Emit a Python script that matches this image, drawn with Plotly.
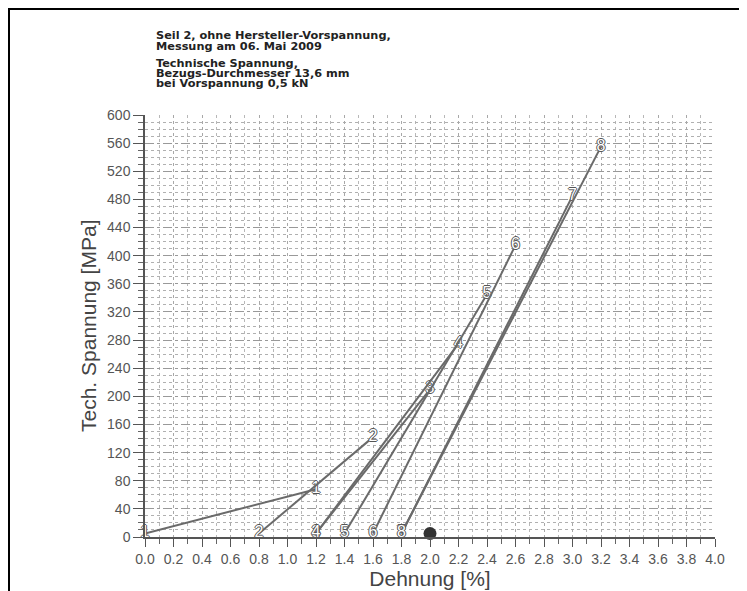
import plotly.graph_objects as go

# ---- data ----
series_labels = ["1", "2", "3", "4", "5", "6", "7", "8"]
start_strain = [0.0, 0.8, 1.2, 1.2, 1.4, 1.6, 1.8, 1.8]      # Dehnung [%] at start (unloaded)
start_stress = [5, 5, 5, 5, 5, 5, 5, 5]                       # MPa
peak_strain = [1.2, 1.6, 2.0, 2.2, 2.4, 2.6, 3.0, 3.2]        # Dehnung [%] at peak
peak_stress = [68, 142, 210, 275, 345, 415, 485, 555]         # MPa
end_point_strain = [2.0]
end_point_stress = [5]

header_lines = [
    "Seil 2, ohne Hersteller-Vorspannung,",
    "Messung am 06. Mai 2009",
    "Technische Spannung,",
    "Bezugs-Durchmesser 13,6 mm",
    "bei Vorspannung 0,5 kN",
]
header_y_page = [35.5, 46, 63.5, 73.5, 83.5]

x_ticks = [i / 5 for i in range(21)]
y_ticks = list(range(0, 601, 40))

# ---- layout geometry (page pixels; the page body adds an 8px offset) ----
OFF = 8
W, H = 747, 591
L, R, T, B = 145 - OFF, 715 - OFF, 115 - OFF, 537 - OFF


def px2paper_x(page_px):
    return (page_px - OFF - L) / (R - L)


def px2paper_y(page_py):
    return (B - (page_py - OFF)) / (B - T)


fig = go.Figure()

FONT = "Liberation Sans, Arial, sans-serif"
outline = "1px 0 0 #555, -1px 0 0 #555, 0 1px 0 #555, 0 -1px 0 #555"
for lab, xs, ys, xp, yp in zip(series_labels, start_strain, start_stress, peak_strain, peak_stress):
    fig.add_trace(go.Scatter(
        x=[xs, xp], y=[ys, yp],
        mode="lines+text",
        text=[lab, lab],
        textposition="middle center",
        textfont=dict(family=FONT, size=16, color="white", shadow=outline),
        line=dict(color="#6a6a6a", width=2),
        cliponaxis=False,
        showlegend=False,
        hoverinfo="x+y",
    ))

fig.add_trace(go.Scatter(
    x=end_point_strain, y=end_point_stress, mode="markers",
    marker=dict(color="#333333", size=13, symbol="circle"),
    cliponaxis=False, showlegend=False,
))

axis_font = dict(family=FONT, size=14, color="#555555")

fig.update_xaxes(
    range=[0, 4.0], tickvals=x_ticks, ticktext=[f"{v:.1f}" for v in x_ticks],
    showline=True, linecolor="#555555", linewidth=1.5,
    ticks="outside", ticklen=8, tickcolor="#555555",
    showgrid=True, gridcolor="#a8a8a8", griddash="dot", gridwidth=1,
    minor=dict(dtick=0.1, showgrid=True, gridcolor="#b8b8b8", griddash="dot",
               ticks="outside", ticklen=5, tickcolor="#666666"),
    tickfont=axis_font, zeroline=False, automargin=False,
    title=dict(text="Dehnung [%]", font=dict(family=FONT, size=21, color="#444444"), standoff=4),
)
fig.update_yaxes(
    range=[0, 600], tickvals=y_ticks,
    showline=True, linecolor="#555555", linewidth=1.5,
    ticks="outside", ticklen=10, tickcolor="#555555",
    showgrid=True, gridcolor="#999999", griddash="dashdot", gridwidth=1,
    minor=dict(dtick=10, showgrid=True, gridcolor="#b0b0b0", griddash="dot",
               ticks="outside", ticklen=5, tickcolor="#666666"),
    tickfont=axis_font, zeroline=False, automargin=False,
)

annotations = []
for txt, py in zip(header_lines, header_y_page):
    annotations.append(dict(
        text=txt, xref="paper", yref="paper",
        x=px2paper_x(154), y=px2paper_y(py), xanchor="left", yanchor="middle",
        showarrow=False,
        font=dict(family="DejaVu Sans, sans-serif", size=11.3, color="#222222", weight="bold"),
    ))
annotations.append(dict(
    text="Tech. Spannung [MPa]", xref="paper", yref="paper",
    x=px2paper_x(88), y=px2paper_y(326), xanchor="center", yanchor="middle", textangle=-90,
    showarrow=False,
    font=dict(family=FONT, size=21, color="#444444"),
))

# frame lines (top and left) at the figure edge
shapes = [
    dict(type="line", xref="paper", yref="paper",
         x0=px2paper_x(8), y0=px2paper_y(9), x1=px2paper_x(W + 20), y1=px2paper_y(9),
         line=dict(color="black", width=2)),
    dict(type="line", xref="paper", yref="paper",
         x0=px2paper_x(9), y0=px2paper_y(8), x1=px2paper_x(9), y1=px2paper_y(H + 20),
         line=dict(color="black", width=2)),
]

fig.update_layout(
    width=W, height=H,
    margin=dict(l=L, r=W - R, t=T, b=H - B),
    paper_bgcolor="white", plot_bgcolor="white",
    annotations=annotations, shapes=shapes,
    showlegend=False,
)

fig.write_html("out.html")
